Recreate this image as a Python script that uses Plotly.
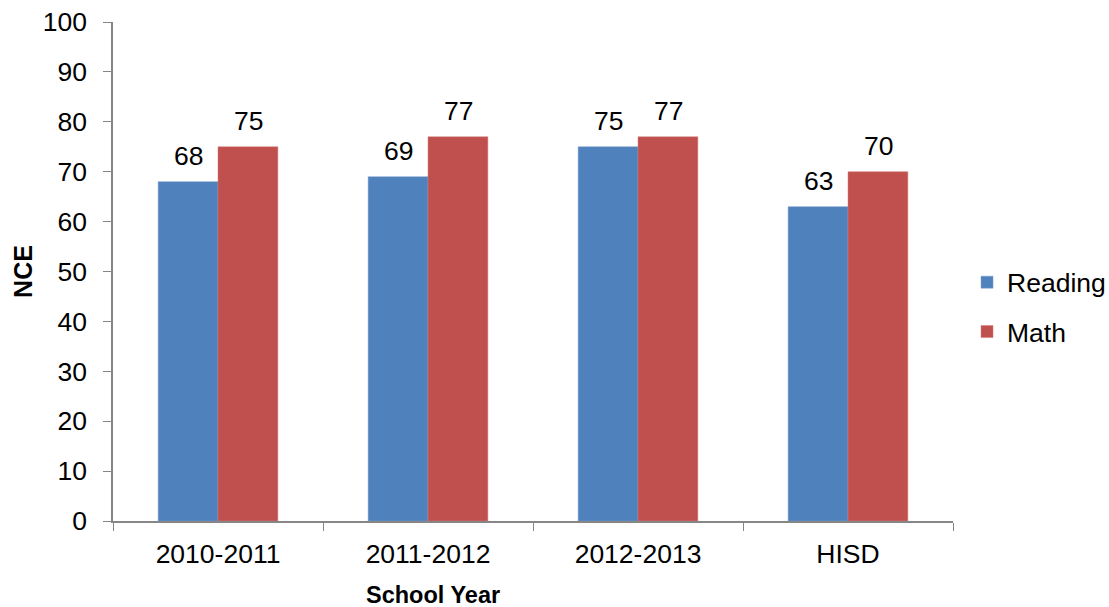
import plotly.graph_objects as go

categories = ["2010-2011", "2011-2012", "2012-2013", "HISD"]
reading = [68, 69, 75, 63]
math_vals = [75, 77, 77, 70]

BAR_HALF_PX = 30  # half of a bar's pixel width, for centring the value labels
FS = 26.5

fig = go.Figure()
fig.add_trace(go.Bar(name="Reading", x=categories, y=reading, legendgroup="r",
                     marker_color="#4F81BD",
                     marker_line=dict(color="#7A9FCC", width=0.5)))
fig.add_trace(go.Bar(name="Math", x=categories, y=math_vals, legendgroup="m",
                     marker_color="#C0504D",
                     marker_line=dict(color="#D47C7A", width=0.5)))

for cat, v in zip(categories, reading):
    fig.add_annotation(x=cat, y=v, text=str(v), showarrow=False, yanchor="bottom",
                       xshift=-BAR_HALF_PX, yshift=9, font=dict(size=FS))
for cat, v in zip(categories, math_vals):
    fig.add_annotation(x=cat, y=v, text=str(v), showarrow=False, yanchor="bottom",
                       xshift=BAR_HALF_PX, yshift=9, font=dict(size=FS))

# x-axis title (sits left of the plot centre in the reference)
fig.add_annotation(text="<b>School Year</b>", xref="paper", yref="paper",
                   x=0.381, y=-0.148, xanchor="center", yanchor="middle",
                   showarrow=False, font=dict(size=23.5))

fig.update_layout(
    width=1109, height=607,
    margin=dict(l=113, r=156, t=22, b=86, autoexpand=False),
    paper_bgcolor="white", plot_bgcolor="white",
    barmode="group", bargap=0.43, bargroupgap=0,
    font=dict(family="Liberation Sans, Arial, sans-serif", size=FS, color="#000000"),
    showlegend=True,
    legend=dict(x=1.0167, y=0.429, xanchor="left", yanchor="middle",
                font=dict(size=FS), itemwidth=30, tracegroupgap=12,
                bgcolor="rgba(0,0,0,0)"),
)
fig.update_xaxes(
    showline=True, linecolor="#868686", linewidth=1.5,
    ticks="outside", tickson="boundaries", ticklen=8, tickcolor="#868686",
    tickfont=dict(size=FS), ticklabelstandoff=8, automargin=False,
)
fig.update_yaxes(
    range=[0, 100], dtick=10, showgrid=False, zeroline=False,
    showline=True, linecolor="#868686", linewidth=1.5,
    ticks="outside", ticklen=8, tickcolor="#868686",
    tickfont=dict(size=FS), ticklabelstandoff=11, automargin=False,
    title=dict(text="<b>NCE</b>", font=dict(size=25), standoff=3),
)

fig.write_html("out.html", config={"displayModeBar": False},
               post_script="document.body.style.margin='0';")
